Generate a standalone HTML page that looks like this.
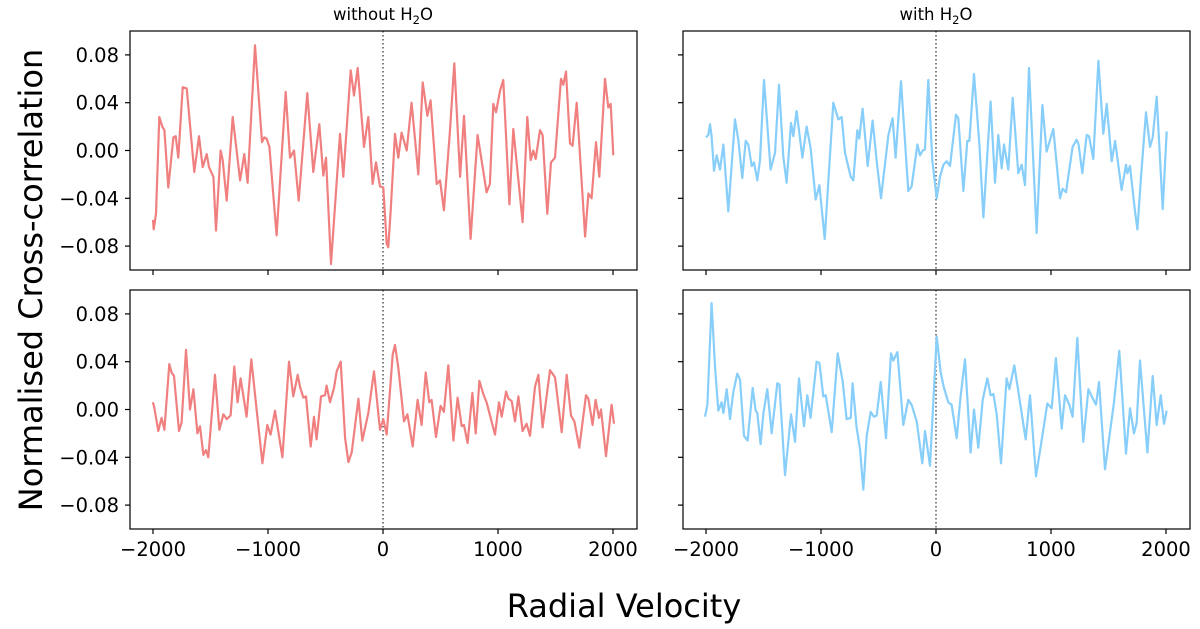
<!DOCTYPE html>
<html><head><meta charset="utf-8"><style>
body{margin:0;background:#fff;}
svg{display:block;font-family:"DejaVu Sans","Liberation Sans",sans-serif;}
</style></head><body>
<svg id="chart" width="1200" height="629" viewBox="0 0 1200 629" xmlns="http://www.w3.org/2000/svg">
<text x="383" y="20" font-size="16.5" text-anchor="middle">without H<tspan font-size="11.5" dy="4">2</tspan><tspan dy="-4">O</tspan></text>
<text x="936" y="20" font-size="16.5" text-anchor="middle">with H<tspan font-size="11.5" dy="4">2</tspan><tspan dy="-4">O</tspan></text>
<text transform="translate(42,280) rotate(-90)" font-size="32" text-anchor="middle">Normalised Cross-correlation</text>
<text x="624" y="617" font-size="32" text-anchor="middle">Radial Velocity</text>
<g id="panels"></g>
</svg>
<script>
const xTicks = [-2000, -1000, 0, 1000, 2000];
const xTickLabels = ["\u22122000", "\u22121000", "0", "1000", "2000"];
const yTicks = [-0.08, -0.04, 0, 0.04, 0.08];
const yTickLabels = ["\u22120.08", "\u22120.04", "0.00", "0.04", "0.08"];

const tlVel = [-2000,-1994,-1974,-1945,-1919,-1901,-1867,-1823,-1803,-1780,-1742,-1707,-1641,-1600,-1568,-1533,-1513,-1475,-1452,-1412,-1394,-1359,-1307,-1243,-1206,-1177,-1113,-1052,-1032,-1012,-988,-925,-881,-846,-809,-774,-733,-658,-606,-554,-519,-496,-452,-374,-345,-281,-252,-220,-165,-128,-90,-61,-26,3,32,46,67,104,133,162,206,249,307,345,386,414,467,496,530,583,620,670,704,762,823,901,930,959,983,1017,1046,1099,1133,1214,1255,1284,1307,1328,1365,1388,1429,1461,1496,1548,1568,1591,1626,1649,1684,1757,1786,1814,1852,1881,1930,1959,1980,2003];
const tlVal = [-0.058,-0.066,-0.053,0.028,0.02,0.017,-0.031,0.011,0.012,-0.006,0.053,0.052,-0.018,0.012,-0.014,-0.003,-0.014,-0.022,-0.067,0.0,-0.008,-0.042,0.028,-0.025,-0.003,-0.027,0.088,0.007,0.011,0.01,0.003,-0.071,-0.004,0.049,-0.006,0.0,-0.042,0.048,-0.018,0.022,-0.021,-0.006,-0.095,0.014,-0.022,0.067,0.046,0.069,0.003,0.028,-0.028,-0.01,-0.03,-0.031,-0.078,-0.081,-0.05,0.014,-0.006,0.015,0.0,0.040,-0.020,0.057,0.029,0.042,-0.028,-0.025,-0.05,0.017,0.073,-0.022,0.029,-0.074,0.013,-0.035,-0.028,0.039,0.032,0.05,0.059,-0.045,0.018,-0.06,0.028,-0.008,0.0,-0.007,0.017,0.013,-0.053,-0.01,-0.006,0.06,0.055,0.066,0.006,0.004,0.04,-0.072,-0.036,-0.04,0.007,-0.022,0.06,0.036,0.039,-0.004];

const trVel = [-2000,-1980,-1965,-1951,-1930,-1907,-1878,-1849,-1806,-1748,-1719,-1684,-1655,-1632,-1603,-1583,-1554,-1530,-1496,-1438,-1400,-1365,-1328,-1299,-1261,-1241,-1212,-1162,-1125,-1090,-1046,-1014,-968,-893,-849,-820,-791,-742,-719,-684,-667,-638,-594,-551,-516,-478,-414,-377,-351,-304,-241,-212,-162,-139,-116,-96,-67,-32,6,35,64,93,122,174,194,238,272,290,330,377,412,475,513,542,571,591,629,667,716,745,774,809,875,925,962,1020,1078,1101,1130,1188,1223,1240,1272,1310,1330,1368,1412,1455,1484,1528,1557,1614,1652,1664,1687,1730,1751,1783,1826,1861,1884,1919,1971,2006];
const trVal = [0.011,0.013,0.022,0.012,-0.017,-0.004,-0.016,0.005,-0.051,0.026,0.009,-0.023,0.008,0.005,-0.013,-0.01,-0.025,-0.008,0.059,-0.016,-0.002,0.055,-0.005,-0.027,0.023,0.012,0.033,-0.006,0.02,0.002,-0.041,-0.029,-0.074,0.04,0.026,0.028,-0.002,-0.022,-0.025,0.017,0.01,0.035,-0.013,0.025,-0.009,-0.04,0.013,0.027,-0.006,0.058,-0.034,-0.03,0.005,-0.004,0.0,0.001,0.059,-0.008,-0.04,-0.022,-0.012,-0.009,-0.013,0.03,0.027,-0.034,0.008,0.008,0.064,0.005,-0.056,0.041,-0.027,0.013,-0.015,0.005,-0.016,0.044,-0.019,-0.012,-0.029,0.069,-0.069,0.038,-0.001,0.018,-0.04,-0.032,-0.035,0.003,0.009,0.005,-0.019,0.013,0.012,-0.007,0.075,0.014,0.039,-0.009,0.008,-0.033,-0.012,-0.019,-0.013,-0.051,-0.066,-0.022,0.032,0.003,0.011,0.045,-0.049,0.016];

const blVel = [-2003,-1991,-1954,-1925,-1901,-1858,-1838,-1817,-1774,-1751,-1713,-1678,-1649,-1614,-1591,-1562,-1539,-1519,-1461,-1423,-1388,-1359,-1325,-1293,-1264,-1238,-1186,-1145,-1099,-1049,-1006,-977,-939,-875,-817,-780,-742,-722,-693,-670,-629,-600,-577,-539,-504,-490,-461,-426,-403,-368,-330,-301,-272,-214,-180,-128,-78,-26,3,32,84,104,133,183,212,258,301,336,371,403,423,461,501,530,568,612,649,684,704,736,777,806,838,872,901,974,1009,1032,1070,1090,1119,1148,1177,1214,1249,1278,1322,1351,1388,1452,1496,1554,1597,1635,1664,1707,1765,1786,1823,1849,1878,1896,1939,1988,2009];
const blVal = [0.006,0.003,-0.018,-0.007,-0.017,0.038,0.031,0.028,-0.018,-0.011,0.05,0.0,0.017,-0.02,-0.014,-0.038,-0.034,-0.04,0.029,-0.017,-0.004,-0.008,-0.005,0.036,0.006,0.026,-0.006,0.042,0.0,-0.045,-0.013,-0.021,-0.001,-0.04,0.04,0.011,0.029,0.019,0.01,0.011,-0.031,-0.006,-0.025,0.011,0.012,0.02,0.006,0.018,0.032,0.04,-0.024,-0.044,-0.036,0.009,-0.026,-0.003,0.032,-0.017,-0.008,-0.021,0.046,0.054,0.035,-0.01,-0.004,-0.031,0.008,-0.013,0.031,0.006,0.008,-0.023,0.003,-0.002,0.037,-0.026,0.01,-0.014,-0.013,-0.028,0.014,-0.02,0.024,0.013,0.006,-0.021,0.006,-0.006,0.015,0.009,0.007,-0.01,0.011,-0.018,-0.012,-0.022,0.019,0.029,-0.015,0.033,0.027,-0.019,0.029,-0.005,-0.01,-0.032,0.012,0.009,-0.013,0.008,-0.007,0.0,-0.039,0.004,-0.012];

const brVel = [-2009,-1988,-1951,-1922,-1893,-1864,-1849,-1820,-1791,-1762,-1728,-1704,-1670,-1638,-1594,-1568,-1554,-1525,-1501,-1467,-1429,-1380,-1362,-1313,-1261,-1226,-1191,-1148,-1119,-1090,-1038,-1014,-980,-959,-907,-855,-812,-777,-742,-725,-690,-661,-632,-603,-568,-539,-516,-481,-435,-391,-371,-336,-284,-241,-212,-168,-119,-96,-52,6,41,70,107,136,180,214,252,301,330,368,406,446,475,499,528,565,614,638,681,730,780,817,870,933,968,1006,1043,1093,1122,1159,1188,1229,1281,1325,1354,1391,1417,1470,1504,1548,1594,1652,1687,1722,1745,1774,1838,1884,1919,1954,1983,2006];
const brVal = [-0.006,0.004,0.089,0.036,-0.001,0.006,-0.003,0.017,-0.008,0.015,0.03,0.025,-0.022,-0.026,0.018,-0.001,-0.003,-0.029,-0.003,0.017,-0.02,0.022,0.021,-0.055,-0.004,-0.027,0.026,-0.014,0.012,-0.007,0.04,0.039,0.011,0.012,-0.019,0.047,0.024,-0.008,-0.007,0.022,-0.015,-0.033,-0.067,-0.022,-0.002,-0.006,-0.005,0.023,-0.024,0.047,0.041,0.048,-0.013,0.008,0.004,-0.01,-0.045,-0.018,-0.047,0.061,0.031,0.018,0.006,0.004,-0.024,0.011,0.042,-0.036,0.0,-0.032,0.008,0.026,0.012,0.013,-0.004,-0.045,0.026,0.017,0.037,0.006,-0.025,0.012,-0.056,-0.017,0.005,0.001,0.043,-0.016,0.012,0.004,-0.006,0.06,-0.027,0.017,0.011,0.004,0.023,-0.05,-0.025,0.006,0.049,-0.037,0.001,-0.02,-0.011,0.041,-0.036,0.028,-0.013,0.012,-0.012,-0.001];

const NS = "http://www.w3.org/2000/svg";
const root = document.getElementById('panels');
function mk(tag, attrs){ const e=document.createElementNS(NS,tag); for(const k in attrs) e.setAttribute(k,attrs[k]); return e; }

const panels = [
  {x0:130, y0:31, vel:tlVel, val:tlVal, color:"#f08080", ylab:true, xlab:false, name:"top-left"},
  {x0:683, y0:31, vel:trVel, val:trVal, color:"#87cefa", ylab:false, xlab:false, name:"top-right"},
  {x0:130, y0:290, vel:blVel, val:blVal, color:"#f08080", ylab:true, xlab:true, name:"bottom-left"},
  {x0:683, y0:290, vel:brVel, val:brVal, color:"#87cefa", ylab:false, xlab:true, name:"bottom-right"}
];
const W = 507, H = 239;

panels.forEach(p => {
  const xs = v => p.x0 + 23 + (v + 2000) * 0.115;
  const ys = d => p.y0 + H/2 - d * 1195;
  const g = mk('g', {});
  
  
  root.appendChild(g);

  const zl = mk('line', {x1:xs(0), x2:xs(0), y1:p.y0, y2:p.y0+H, stroke:"#555", 'stroke-width':1.5, 'stroke-dasharray':"1.5,2.5"});
  
  
  g.appendChild(zl);

  const pts = p.vel.map((v,i) => xs(v).toFixed(1) + ',' + ys(p.val[i]).toFixed(1)).join(' ');
  const pl = mk('polyline', {points:pts, fill:"none", stroke:p.color, 'stroke-width':2.2, 'stroke-linejoin':"round"});
  
  
  g.appendChild(pl);

  const fr = mk('rect', {x:p.x0, y:p.y0, width:W, height:H, fill:"none", stroke:"#000", 'stroke-width':1.2});
  
  
  g.appendChild(fr);

  xTicks.forEach((t,i) => {
    const tk = mk('line', {x1:xs(t), x2:xs(t), y1:p.y0+H, y2:p.y0+H+5, stroke:"#000", 'stroke-width':1.2});
    
    
    g.appendChild(tk);
    if (p.xlab) {
      const tx = mk('text', {x:xs(t), y:p.y0+H+27, 'font-size':19.5, 'text-anchor':"middle"});
      
      
      tx.textContent = xTickLabels[i];
      g.appendChild(tx);
    }
  });
  yTicks.forEach((t,i) => {
    const tk = mk('line', {x1:p.x0-5, x2:p.x0, y1:ys(t), y2:ys(t), stroke:"#000", 'stroke-width':1.2});
    
    
    g.appendChild(tk);
    if (p.ylab) {
      const tx = mk('text', {x:p.x0-11, y:ys(t)+7, 'font-size':19.5, 'text-anchor':"end"});
      
      
      tx.textContent = yTickLabels[i];
      g.appendChild(tx);
    }
  });
});
</script>
</body></html>
